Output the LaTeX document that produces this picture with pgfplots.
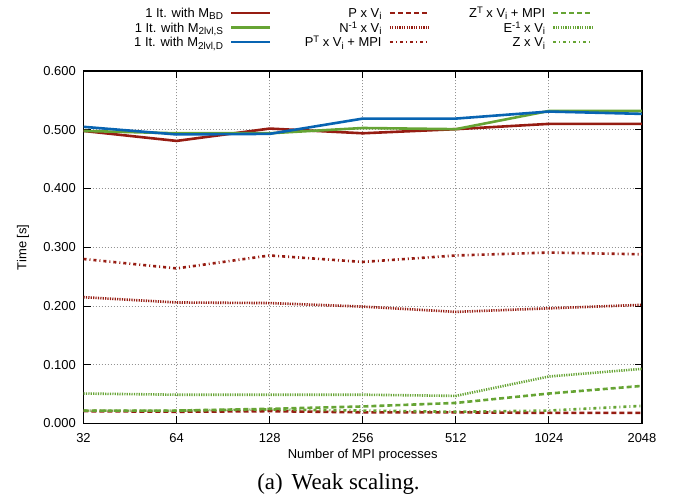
\documentclass[border=0pt]{standalone}
\usepackage{pgfplots}
\usepackage{pgfplotstable}
\pgfplotsset{compat=1.18}
\usepackage{fontspec}
\setmainfont{Liberation Sans}
\newfontfamily\serifcap{Liberation Serif}
\definecolor{cred}{RGB}{150,28,18}
\definecolor{cgreen}{RGB}{102,164,52}
\definecolor{cblue}{RGB}{8,100,178}
\newcommand\sub[1]{\raisebox{-0.17em}{\fontsize{10}{10}\selectfont #1}}
\newcommand\sups[1]{\raisebox{0.3em}{\fontsize{9.5}{9.5}\selectfont #1}}
\newcommand\lf{\fontsize{13}{15}\selectfont}
\pgfplotstableread{
x BD S2 D2 PV NV PTV ZTV EV ZV
0 0.498 0.498 0.505 0.021 0.215 0.280 0.022 0.051 0.022
1 0.481 0.494 0.492 0.020 0.206 0.264 0.022 0.049 0.022
2 0.502 0.494 0.493 0.021 0.205 0.286 0.025 0.049 0.024
3 0.494 0.503 0.519 0.019 0.199 0.275 0.029 0.049 0.022
4 0.501 0.501 0.519 0.019 0.190 0.286 0.035 0.047 0.020
5 0.510 0.532 0.531 0.018 0.196 0.291 0.051 0.080 0.022
6 0.510 0.532 0.527 0.018 0.202 0.288 0.064 0.093 0.030
}\data
\begin{document}
\begin{tikzpicture}
\useasboundingbox (0,0) rectangle (681bp,500bp);
\begin{axis}[
  at={(83.5bp,76.5bp)}, anchor=south west,
  scale only axis, width=558.5bp, height=352.5bp,
  xmin=0, xmax=6, ymin=0, ymax=0.6,
  xtick={0,1,2,3,4,5,6},
  xticklabels={32,64,128,256,512,1024,2048},
  ytick={0,0.1,0.2,0.3,0.4,0.5,0.6},
  yticklabels={0.000,0.100,0.200,0.300,0.400,0.500,0.600},
  /pgf/number format/assume math mode=true,
  tick align=inside, major tick length=7bp,
  tick style={black, line width=1bp},
  axis line style={black, line width=1.2bp},
  grid=major,
  grid style={gray!85, line width=0.9bp, dash pattern=on 1bp off 2bp},
  xticklabel style={font=\lf, anchor=base, yshift=-19bp, inner sep=0pt},
  yticklabel style={font=\lf, anchor=east, xshift=-7.5bp, inner sep=0pt},
  xlabel={Number of MPI processes},
  ylabel={Time [s]},
  xlabel style={font=\lf, at={(axis description cs:0.5,0)}, anchor=base, yshift=-35bp},
  ylabel style={font=\lf, at={(axis description cs:-0.1083,0.5)}, anchor=center},
  legend columns=3, transpose legend,
  legend plot pos=right,
  legend cell align=right,
  legend style={draw=none, fill=none, inner sep=0pt, font=\lf,
    at={(axis description cs:0.914,1.186)}, anchor=north east,
    row sep=0pt,
    nodes={inner sep=0pt, text height=12bp, text depth=2.6bp},
    /tikz/every odd column/.style={column sep=7bp},
    /tikz/every even column/.style={column sep=10bp}},
  legend image code/.code={\draw[#1] (0bp,0bp) -- (39bp,0bp);},
  every axis plot/.append style={line width=2.6bp},
]
\addplot[cred, solid] table[x=x,y=BD]{\data};
\addlegendentry{\makebox[100bp][r]{1 It. with M\sub{BD}}}
\addplot[cgreen, solid] table[x=x,y=S2]{\data};
\addlegendentry{\makebox[100bp][r]{1 It. with M\sub{2lvl,S}}}
\addplot[cblue, solid] table[x=x,y=D2]{\data};
\addlegendentry{\makebox[100bp][r]{1 It. with M\sub{2lvl,D}}}
\addplot[cred, dash pattern=on 5bp off 3bp] table[x=x,y=PV]{\data};
\addlegendentry{\makebox[100bp][r]{P x V\sub{i}}}
\addplot[cred, dash pattern=on 1.2bp off 1.2bp] table[x=x,y=NV]{\data};
\addlegendentry{\makebox[100bp][r]{N\sups{-1} x V\sub{i}}}
\addplot[cred, dash pattern=on 3bp off 3bp on 1bp off 3bp] table[x=x,y=PTV]{\data};
\addlegendentry{\makebox[100bp][r]{P\sups{T} x V\sub{i} + MPI}}
\addplot[cgreen, dash pattern=on 5bp off 3bp] table[x=x,y=ZTV]{\data};
\addlegendentry{\makebox[105bp][r]{Z\sups{T} x V\sub{i} + MPI}}
\addplot[cgreen, dash pattern=on 1.2bp off 1.2bp] table[x=x,y=EV]{\data};
\addlegendentry{\makebox[105bp][r]{E\sups{-1} x V\sub{i}}}
\addplot[cgreen, dash pattern=on 3bp off 3bp on 1bp off 3bp] table[x=x,y=ZV]{\data};
\addlegendentry{\makebox[105bp][r]{Z x V\sub{i}}}
\end{axis}
\node[font=\serifcap\fontsize{23}{23}\selectfont, anchor=base] at (338.5bp,11bp) {(a)\hspace{9bp}Weak scaling.};
\end{tikzpicture}
\end{document}
